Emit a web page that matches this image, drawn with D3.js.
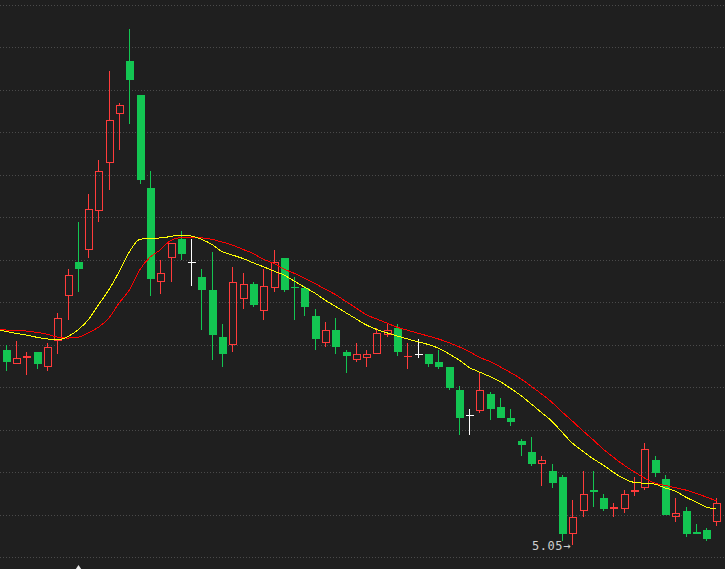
<!DOCTYPE html>
<html><head><meta charset="utf-8">
<script src="https://cdn.jsdelivr.net/npm/d3@7"></script>
<style>html,body{margin:0;padding:0;background:#1f1f1f;overflow:hidden}</style>
</head><body><svg id="c" width="725" height="569"></svg>
<script>
// ---- data ----
const days = d3.range(70).map(i => "D" + (i + 1));
const open = [5.97,5.90,5.93,5.96,5.89,6.01,6.22,6.38,6.44,6.62,
  6.85,7.08,7.33,7.17,6.73,6.29,6.40,6.49,6.38,6.31,
  6.25,6.03,5.99,6.21,6.28,6.15,6.26,6.40,6.264,6.26,
  6.13,6.00,6.06,5.96,5.92,5.93,5.95,6.04,6.07,5.937,
  5.95,5.95,5.91,5.89,5.78,5.66,5.68,5.76,5.70,5.65,
  5.54,5.49,5.43,5.40,5.37,5.10,5.21,5.31,5.27,5.22,
  5.22,5.30,5.32,5.45,5.36,5.18,5.21,5.11,5.12,5.16];
const high = [5.99,6.01,5.96,5.96,6.00,6.14,6.35,6.57,6.70,6.86,
  7.28,7.13,7.48,7.17,6.81,6.39,6.47,6.53,6.49,6.35,
  6.43,6.09,6.36,6.33,6.29,6.35,6.44,6.40,6.31,6.27,
  6.16,6.10,6.12,5.97,6.00,5.97,6.07,6.09,6.09,6.00,
  6.02,5.95,5.97,5.89,5.80,5.69,5.86,5.77,5.74,5.69,
  5.55,5.56,5.47,5.43,5.38,5.26,5.40,5.40,5.29,5.25,
  5.31,5.37,5.53,5.47,5.38,5.27,5.23,5.15,5.13,5.27];
const low = [5.87,5.90,5.85,5.88,5.87,5.95,6.11,6.24,6.40,6.57,
  6.72,6.91,7.03,6.75,6.22,6.23,6.29,6.39,6.27,6.06,
  5.92,5.89,5.96,6.16,6.17,6.11,6.24,6.24,6.11,6.13,
  5.97,5.98,5.95,5.86,5.91,5.89,5.95,6.03,5.94,5.88,
  5.93,5.89,5.88,5.78,5.57,5.57,5.67,5.64,5.65,5.61,
  5.47,5.42,5.33,5.32,5.07,5.05,5.18,5.23,5.21,5.18,
  5.20,5.28,5.31,5.37,5.19,5.16,5.09,5.10,5.07,5.14];
const close = [5.91,5.93,5.94,5.90,5.98,6.12,6.32,6.35,6.63,6.81,
  7.05,7.12,7.24,6.77,6.30,6.33,6.47,6.42,6.38,6.25,
  6.04,5.95,6.29,6.28,6.18,6.27,6.38,6.25,6.262,6.17,
  6.02,6.06,5.98,5.94,5.95,5.95,6.05,6.06,5.96,5.939,
  5.95,5.90,5.89,5.79,5.65,5.66,5.78,5.69,5.65,5.63,
  5.52,5.43,5.45,5.34,5.10,5.18,5.29,5.30,5.22,5.23,
  5.29,5.31,5.50,5.39,5.19,5.20,5.10,5.10,5.08,5.25];
// moving averages, first value belongs to the (hidden) bar before D1
const maShort = [6.064,6.056,6.046,6.038,6.028,6.020,6.015,6.030,6.062,6.109,6.180,
  6.250,6.335,6.429,6.488,6.494,6.495,6.502,6.509,6.504,6.489,
  6.465,6.431,6.415,6.399,6.379,6.360,6.340,6.321,6.293,6.264,
  6.236,6.203,6.174,6.144,6.115,6.086,6.065,6.049,6.034,6.020,
  6.007,5.994,5.977,5.951,5.921,5.886,5.864,5.843,5.819,5.788,
  5.754,5.715,5.674,5.634,5.582,5.530,5.493,5.457,5.427,5.392,
  5.363,5.345,5.341,5.337,5.319,5.304,5.276,5.253,5.229,5.220];
const maLong = [6.064,6.062,6.061,6.057,6.051,6.042,6.029,6.024,6.028,6.048,6.075,
  6.117,6.188,6.250,6.344,6.404,6.439,6.483,6.497,6.498,6.496,
  6.489,6.476,6.462,6.442,6.423,6.395,6.376,6.349,6.329,6.305,
  6.281,6.255,6.229,6.197,6.166,6.134,6.114,6.095,6.075,6.061,
  6.047,6.034,6.020,6.003,5.983,5.961,5.933,5.914,5.889,5.862,
  5.833,5.798,5.762,5.723,5.677,5.634,5.589,5.547,5.502,5.463,
  5.427,5.395,5.366,5.342,5.331,5.320,5.309,5.294,5.276,5.258];
const gridLevels = d3.range(14).map(k => +(4.99 + 0.2 * k).toFixed(2));
const signalIndex = [7];

// ---- drawing ----
const W = 725, H = 569;
const UP = "#ff3b3b", DOWN = "#13c552", FLAT = "#ffffff";
const svg = d3.select("#c");
svg.append("rect").attr("width", W).attr("height", H).attr("fill", "#1f1f1f");

const x = d3.scaleLinear().domain([0, 69]).range([5.7, 716.4]);
const y = d3.scaleLinear().domain([4.99, 7.59]).range([557.8, 5.3]);
const px = i => Math.round(x(i));
const sn = v => Math.floor(v) + 0.5;

svg.append("g").selectAll("line").data(gridLevels).join("line")
  .attr("x1", 0).attr("x2", W)
  .attr("y1", d => sn(y(d))).attr("y2", d => sn(y(d)))
  .attr("stroke", "#4a4a4a").attr("stroke-dasharray", "1,2")
  .attr("shape-rendering", "crispEdges");

const bars = days.map((d, i) => ({i, o: open[i], h: high[i], l: low[i], c: close[i]}));
const g = svg.append("g").attr("shape-rendering", "crispEdges");
bars.forEach(b => {
  const cx = px(b.i);
  const col = b.c > b.o ? UP : (b.c < b.o ? DOWN : FLAT);
  const yt = Math.round(y(Math.max(b.o, b.c)));
  const yb = Math.round(y(Math.min(b.o, b.c)));
  const yh = Math.round(y(b.h)), yl = Math.round(y(b.l));
  const bh = yb - yt;
  if (bh < 1.5) {
    g.append("line").attr("x1", cx + 0.5).attr("x2", cx + 0.5).attr("y1", yh).attr("y2", yl).attr("stroke", col);
    g.append("line").attr("x1", cx - 3).attr("x2", cx + 5).attr("y1", yt + 0.5).attr("y2", yt + 0.5).attr("stroke", col);
  } else if (col === UP) {
    if (yh < yt) g.append("line").attr("x1", cx + 0.5).attr("x2", cx + 0.5).attr("y1", yh).attr("y2", yt).attr("stroke", col);
    if (yl > yb) g.append("line").attr("x1", cx + 0.5).attr("x2", cx + 0.5).attr("y1", yb).attr("y2", yl).attr("stroke", col);
    g.append("rect").attr("x", cx - 2.5).attr("y", yt + 0.5).attr("width", 7).attr("height", bh - 1)
      .attr("fill", "none").attr("stroke", col).attr("stroke-width", 1.2);
  } else {
    g.append("line").attr("x1", cx + 0.5).attr("x2", cx + 0.5).attr("y1", yh).attr("y2", yl).attr("stroke", col);
    g.append("rect").attr("x", cx - 3).attr("y", yt).attr("width", 8).attr("height", bh).attr("fill", col);
  }
});

const line = d3.line().x((d, k) => x(k - 1)).y(d => y(d)).curve(d3.curveMonotoneX);
svg.append("path").datum(maLong).attr("d", line).attr("fill", "none").attr("stroke", "#ff0000")
  .attr("stroke-width", 1).attr("shape-rendering", "crispEdges");
svg.append("path").datum(maShort).attr("d", line).attr("fill", "none").attr("stroke", "#ffff00")
  .attr("stroke-width", 1).attr("shape-rendering", "crispEdges");

// lowest low label
const li = d3.minIndex(low);
svg.append("text").attr("x", px(li) - 1).attr("y", y(low[li]) + 5)
  .attr("text-anchor", "end").attr("fill", "#cfcfcf").attr("letter-spacing", 0.6)
  .attr("font-family", "'DejaVu Sans Mono', monospace").attr("font-size", 12)
  .text(low[li].toFixed(2) + "\u2192");

// signal marker at bottom
svg.append("g").selectAll("path").data(signalIndex).join("path")
  .attr("d", i => `M${px(i) + 0.5},565 L${px(i) - 3.5},571 L${px(i) + 4.5},571 Z`)
  .attr("fill", "#e8e8e8");
</script></body></html>
